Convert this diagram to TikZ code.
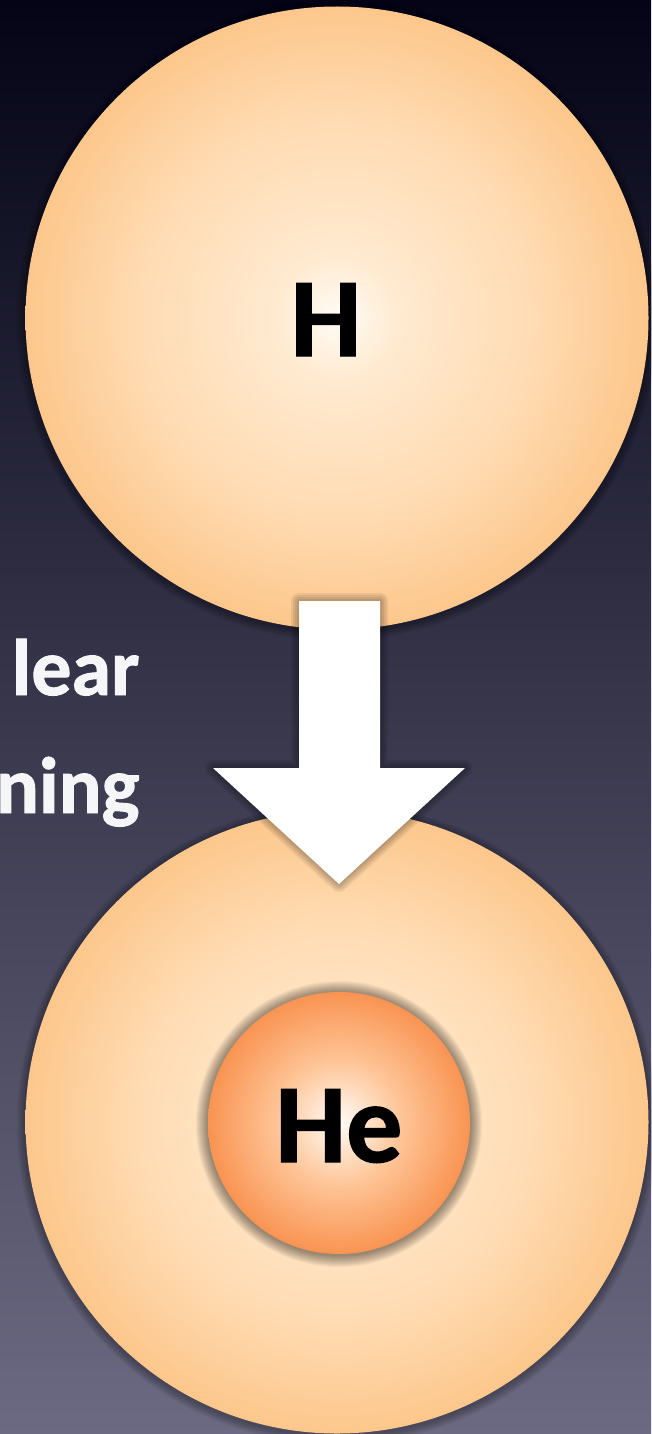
\documentclass[tikz,border=0pt]{standalone}
\usepackage{fontspec}
\setmainfont{Carlito}
\definecolor{bgT}{RGB}{4,4,22}
\definecolor{bgM}{RGB}{52,50,84}
\definecolor{bgB}{RGB}{108,106,130}
\definecolor{bbA}{RGB}{255,251,246}
\definecolor{bbB}{RGB}{255,234,208}
\definecolor{bbC}{RGB}{255,219,178}
\definecolor{bbD}{RGB}{252,199,140}
\definecolor{heA}{RGB}{255,252,248}
\definecolor{heB}{RGB}{254,196,150}
\definecolor{heC}{RGB}{249,148,82}
\definecolor{txtW}{RGB}{246,246,248}
\pgfdeclareradialshading{bigball}{\pgfpoint{0bp}{0bp}}{color(0bp)=(bbA); color(5bp)=(bbB); color(16bp)=(bbC); color(25bp)=(bbD); color(50bp)=(bbD)}
\pgfdeclareradialshading{heball}{\pgfpoint{0bp}{0bp}}{color(0bp)=(heA); color(12bp)=(heB); color(25bp)=(heC); color(50bp)=(heC)}
\begin{document}
\begin{tikzpicture}[x=1pt,y=-1pt,
  ball/.style={circle, inner sep=0pt, shade, shading=bigball, minimum size=623pt},
  heb/.style={circle, inner sep=0pt, shade, shading=heball, minimum size=262pt},
  label/.style={anchor=base, text=black, font=\fontsize{112}{130}\selectfont\bfseries\addfontfeature{FakeBold=1.2}},
  side/.style={anchor=base east, text=txtW, font=\fontsize{80}{96}\selectfont\bfseries\addfontfeature{FakeBold=1.2}},
  softshadow/.style={black, opacity=0.035}]
\useasboundingbox (0,0) rectangle (651,1434);
\shade[top color=bgT, middle color=bgM, bottom color=bgB] (0,0) rectangle (651,1434);
% big ball shadows
\foreach \i in {1,...,9} {
  \fill[softshadow] (337,320) circle ({311.5pt+\i pt});
  \fill[softshadow] (337,1124) circle ({311.5pt+\i pt});
}
\node[ball] (top) at (337,318) {};
\node[ball] (bottom) at (337,1122) {};
% He ball shadow
\foreach \i in {1,...,12} \fill[black, opacity=0.04] (339,1124) circle ({131pt+\i pt});
\node[heb] (he) at (339,1123) {};
% arrow
\coordinate (a1) at (299,601);
\coordinate (a2) at (380,601);
\coordinate (a3) at (380,768);
\coordinate (a4) at (465,768);
\coordinate (a5) at (339,884);
\coordinate (a6) at (213,768);
\coordinate (a7) at (299,768);
\foreach \w in {16,12,8,4} \draw[black, opacity=0.07, line width=\w pt, line join=round, yshift=-1.5pt] (a1)--(a2)--(a3)--(a4)--(a5)--(a6)--(a7)--cycle;
\fill[white] (a1)--(a2)--(a3)--(a4)--(a5)--(a6)--(a7)--cycle;
% labels
\node[label] (htxt) at (326,356) {H};
\node[label] (hetxt) at (339,1162) {He};
\node[side] (l1) at (143,695) {lear};
\node[side] (l2) at (143,813) {ning};
\end{tikzpicture}
\end{document}
